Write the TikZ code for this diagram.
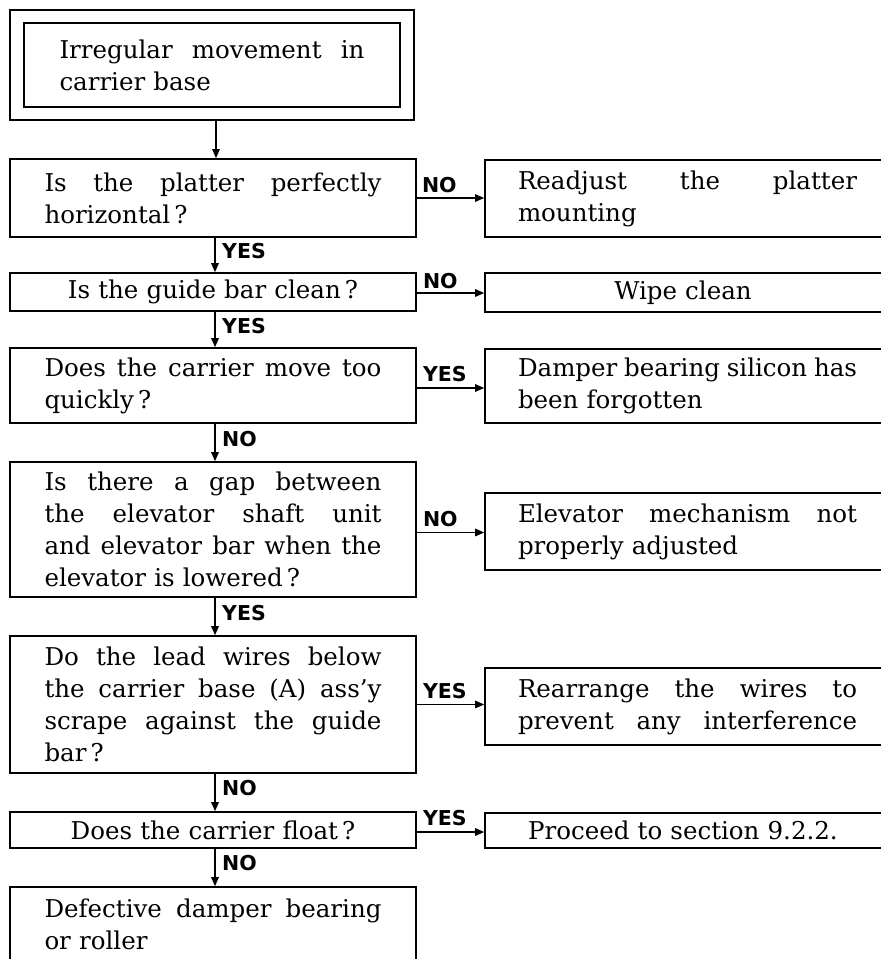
\documentclass[tikz,border=0pt]{standalone}
\usepackage{fontspec}
\setmainfont{DejaVu Serif}
\newfontfamily\labfont{DejaVu Sans}
\usetikzlibrary{arrows.meta,fit}
\newcommand{\jL}[1]{{\spaceskip=0pt\xspaceskip=0pt\makebox[337pt][s]{#1}}}
\newcommand{\jR}[1]{{\spaceskip=0pt\xspaceskip=0pt\makebox[339pt][s]{#1}}}
\newcommand{\jT}[1]{{\spaceskip=0pt\xspaceskip=0pt\makebox[305pt][s]{#1}}}
\begin{document}
\begin{tikzpicture}[x=1pt,y=-1pt,
  box/.style={draw, line width=1.6pt, inner sep=0pt, align=left,
    font=\fontsize{24.5}{32}\selectfont},
  lbox/.style={box, minimum width=406pt, text width=337pt},
  rbox/.style={box, minimum width=405pt, text width=339pt},
  arr/.style={-{Triangle[length=9pt,width=7.5pt]}, line width=1.3pt},
  lab/.style={font=\labfont\bfseries\fontsize{20.5}{24}\selectfont, inner sep=0pt}]
\fill[white] (0,0) rectangle (881,959);
\useasboundingbox (0,0) rectangle (881,959);

% start (double frame)
\node[box, minimum width=376pt, minimum height=84pt, text width=305pt] (start) at (212,65)
  {\jT{Irregular movement in}\\carrier base};
\node[draw, line width=1.6pt, fit=(start), inner xsep=13.2pt, inner ysep=12.4pt] (startframe) {};

% left column
\node[lbox, minimum height=78pt] (B2) at (213,198)
  {\jL{Is the platter perfectly}\\horizontal\,?};
\node[lbox, minimum height=38pt, align=center] (B3) at (213,292)
  {Is the guide bar clean\,?};
\node[lbox, minimum height=75pt] (B4) at (213,385.5)
  {\jL{Does the carrier move too}\\quickly\,?};
\node[lbox, minimum height=135pt] (B5) at (213,529.5)
  {\jL{Is there a gap between}\\\jL{the elevator shaft unit}\\\jL{and elevator bar when the}\\elevator is lowered\,?};
\node[lbox, minimum height=137pt] (B6) at (213,704.5)
  {\jL{Do the lead wires below}\\\jL{the carrier base (A) ass’y}\\\jL{scrape against the guide}\\bar\,?};
\node[lbox, minimum height=36pt, align=center] (B7) at (213,830)
  {Does the carrier float\,?};
\node[lbox, minimum height=75pt] (B8) at (213,924.5)
  {\jL{Defective damper bearing}\\or roller};

% right column
\node[rbox, minimum height=77pt] (R1) at (687.5,198.5)
  {\jR{Readjust the platter}\\mounting};
\node[rbox, minimum height=39pt, align=center] (R2) at (687.5,292.5)
  {\hspace*{-9pt}Wipe clean};
\node[rbox, minimum height=74pt] (R3) at (687.5,386)
  {\jR{Damper bearing silicon has}\\been forgotten};
\node[rbox, minimum height=77pt] (R4) at (687.5,531.5)
  {\jR{Elevator mechanism not}\\properly adjusted};
\node[rbox, minimum height=77pt] (R5) at (687.5,706.5)
  {\jR{Rearrange the wires to}\\\jR{prevent any interference}};
\node[rbox, minimum height=35pt, align=center] (R6) at (687.5,830.5)
  {\hspace*{-9pt}Proceed to section 9.2.2.};

% vertical connectors
\draw[arr] ([xshift=4pt]startframe.south) -- ([xshift=3pt]B2.north);
\draw[arr] ([xshift=2pt]B2.south) -- ([xshift=2pt]B3.north);
\draw[arr] ([xshift=2pt]B3.south) -- ([xshift=2pt]B4.north);
\draw[arr] ([xshift=2pt]B4.south) -- ([xshift=2pt]B5.north);
\draw[arr] ([xshift=2pt]B5.south) -- ([xshift=2pt]B6.north);
\draw[arr] ([xshift=2pt]B6.south) -- ([xshift=2pt]B7.north);
\draw[arr] ([xshift=2pt]B7.south) -- ([xshift=2pt]B8.north);

\node[lab, anchor=base west] (v2) at ([xshift=9pt,yshift=-21pt]B2.south) {YES};
\node[lab, anchor=base west] (v3) at ([xshift=9pt,yshift=-22pt]B3.south) {YES};
\node[lab, anchor=base west] (v4) at ([xshift=9pt,yshift=-23pt]B4.south) {NO};
\node[lab, anchor=base west] (v5) at ([xshift=9pt,yshift=-23pt]B5.south) {YES};
\node[lab, anchor=base west] (v6) at ([xshift=9pt,yshift=-22pt]B6.south) {NO};
\node[lab, anchor=base west] (v7) at ([xshift=9pt,yshift=-22pt]B7.south) {NO};

% horizontal connectors
\coordinate (h2) at (B2.east);
\coordinate (h3) at ([yshift=-1pt]B3.east);
\coordinate (h4) at ([yshift=-2.5pt]B4.east);
\coordinate (h5) at ([yshift=-3pt]B5.east);
\coordinate (h6) at (B6.east);
\coordinate (h7) at ([yshift=-2pt]B7.east);
\draw[arr] (h2) -- (h2 -| R1.west);
\draw[arr] (h3) -- (h3 -| R2.west);
\draw[arr] (h4) -- (h4 -| R3.west);
\draw[arr] (h5) -- (h5 -| R4.west);
\draw[arr] (h6) -- (h6 -| R5.west);
\draw[arr] (h7) -- (h7 -| R6.west);

\node[lab, anchor=base west] (t2) at ([xshift=5pt,yshift=6pt]h2) {NO};
\node[lab, anchor=base west] (t3) at ([xshift=6pt,yshift=5pt]h3) {NO};
\node[lab, anchor=base west] (t4) at ([xshift=6pt,yshift=7pt]h4) {YES};
\node[lab, anchor=base west] (t5) at ([xshift=6pt,yshift=6pt]h5) {NO};
\node[lab, anchor=base west] (t6) at ([xshift=6pt,yshift=6pt]h6) {YES};
\node[lab, anchor=base west] (t7) at ([xshift=6pt,yshift=7pt]h7) {YES};
\end{tikzpicture}
\end{document}
